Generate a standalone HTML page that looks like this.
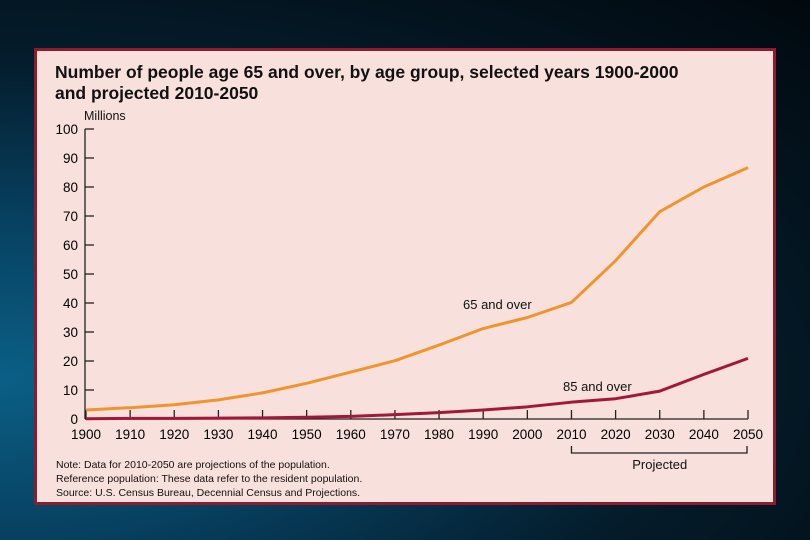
<!DOCTYPE html>
<html><head><meta charset="utf-8"><style>
body{margin:0;width:810px;height:540px;overflow:hidden;background:radial-gradient(ellipse at 0% 70%,#0b5f86 0%,#074060 30%,#041c2b 60%,#02080e 100%);font-family:"Liberation Sans",sans-serif}
#panel{position:absolute;left:34px;top:48px;width:736px;height:451px;background:#f8e0dd;border:3px solid #8c1c2e}
svg{position:absolute;left:0;top:0}
</style></head><body>
<div id="panel"></div>
<svg id="c" width="810" height="540">
<text x="55" y="78" font-size="17.5" font-weight="bold" fill="#111">Number of people age 65 and over, by age group, selected years 1900-2000</text>
<text x="55" y="99" font-size="17.5" font-weight="bold" fill="#111">and projected 2010-2050</text>
<text x="84" y="120" font-size="12.5" fill="#111">Millions</text>
<text x="56" y="468" font-size="10.5" fill="#111">Note: Data for 2010-2050 are projections of the population.</text>
<text x="56" y="482" font-size="10.5" fill="#111">Reference population: These data refer to the resident population.</text>
<text x="56" y="496" font-size="10.5" fill="#111">Source: U.S. Census Bureau, Decennial Census and Projections.</text>
</svg>
<script>
const years=[1900,1910,1920,1930,1940,1950,1960,1970,1980,1990,2000,2010,2020,2030,2040,2050];
const over65=[3.1,3.9,4.9,6.6,9.0,12.3,16.2,20.1,25.5,31.2,35.0,40.2,54.6,71.5,80.0,86.7];
const over85=[0.1,0.2,0.2,0.3,0.4,0.6,0.9,1.5,2.2,3.1,4.2,5.8,7.0,9.6,15.4,20.9];
const yTicks=[0,10,20,30,40,50,60,70,80,90,100];
const svg=document.getElementById('c');const NS='http://www.w3.org/2000/svg';
const x=v=>86+(v-1900)*(662/150);const y=v=>419-v*2.9;
function mk(t,a){const e=document.createElementNS(NS,t);for(const k in a)e.setAttribute(k,a[k]);svg.appendChild(e);return e;}
let e=mk('line',{x1:85,y1:y(100),x2:85,y2:419,stroke:'#222','stroke-width':1.3});


e=mk('line',{x1:85,y1:419,x2:x(2050),y2:419,stroke:'#222','stroke-width':1.3});


yTicks.forEach(v=>{
 let t=mk('line',{x1:85,x2:94,y1:y(v),y2:y(v),stroke:'#222','stroke-width':1.3});
 
 
 let l=mk('text',{x:78,y:y(v)+5,'font-size':13.5,'text-anchor':'end',fill:'#000'});l.textContent=v;
 
 
});
years.forEach(v=>{
 let t=mk('line',{x1:x(v),x2:x(v),y1:410,y2:419,stroke:'#222','stroke-width':1.3});
 
 
 let l=mk('text',{x:x(v),y:439,'font-size':13.5,'text-anchor':'middle',fill:'#000'});l.textContent=v;
 
 
});
e=mk('path',{d:`M${x(2010)} 446V453H${x(2050)-1}V446`,fill:'none',stroke:'#222','stroke-width':1.3});


e=mk('text',{x:(x(2010)+x(2050))/2,y:469,'font-size':13,'text-anchor':'middle',fill:'#111'});e.textContent='Projected';


function line(data,col,name){const p=mk('polyline',{points:data.map((v,i)=>x(years[i])+','+y(v)).join(' '),fill:'none',stroke:col,'stroke-width':3,'stroke-linejoin':'round'});
 
 }
line(over65,'#f0952e','line-65-and-over');
line(over85,'#a3173c','line-85-and-over');
e=mk('text',{x:463,y:309,'font-size':13,fill:'#111'});e.textContent='65 and over';


e=mk('text',{x:563,y:391,'font-size':13,fill:'#111'});e.textContent='85 and over';


</script>
</body></html>
